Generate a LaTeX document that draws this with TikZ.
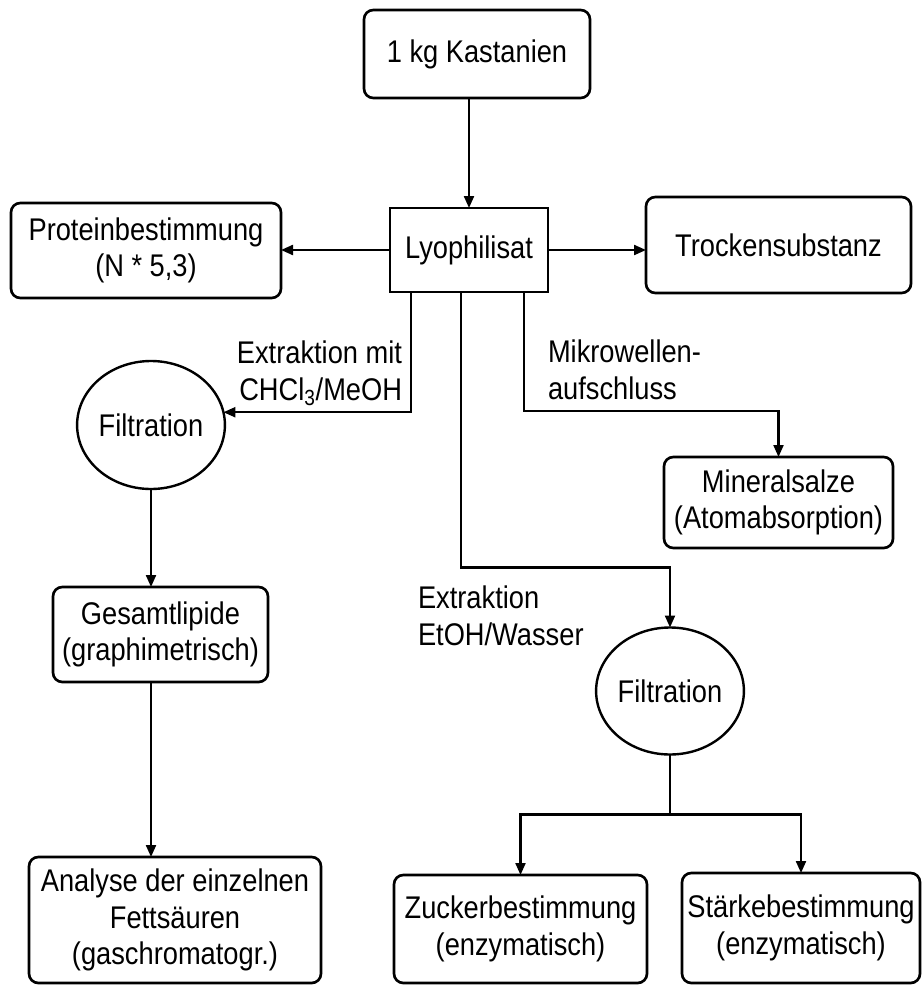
\documentclass[tikz,border=0pt]{standalone}
\usepackage{fontspec}
\setmainfont{Liberation Sans}[FakeStretch=0.87]
\usetikzlibrary{arrows.meta,calc,shapes.geometric}
\tikzset{
  rbox/.style={draw, line width=2pt, rounded corners=7pt, inner sep=0pt, outer sep=0pt, align=center},
  sbox/.style={draw, line width=2pt, inner sep=0pt, outer sep=0pt, align=center},
  circ/.style={draw, ellipse, line width=1.8pt, inner sep=0pt, outer sep=0pt, align=center},
  lbl/.style={inner sep=0pt, outer sep=0pt},
  arr/.style={line width=1.6pt, -{Triangle[length=9pt,width=7.5pt]}},
  ln/.style={line width=1.6pt}
}
\begin{document}
\begin{tikzpicture}[x=0.75pt,y=-0.75pt, every node/.style={font=\fontsize{23.5}{27.5}\selectfont}]
\useasboundingbox[fill=white] (0,0) rectangle (923,985);
\node[rbox, minimum width=169.5pt, minimum height=66pt] (kast) at (477,54) {1 kg Kastanien};
\node[sbox, minimum width=118.5pt, minimum height=63pt] (lyo) at (469,250) {Lyophilisat};
\node[rbox, minimum width=202.5pt, minimum height=71.25pt] (prot) at (146,250.5) {Proteinbestimmung\\(N * 5,3)};
\node[rbox, minimum width=198.75pt, minimum height=72pt] (trock) at (778.5,245) {\raisebox{-6pt}{Trockensubstanz}};
\node[circ, minimum width=102.75pt, minimum height=96pt] (fil1) at (151,425) {Filtration};
\node[rbox, minimum width=171.75pt, minimum height=68.25pt] (min) at (778.5,502.5) {Mineralsalze\\(Atomabsorption)};
\node[circ, minimum width=96.75pt, minimum height=95.25pt] (fil2) at (670,691) {Filtration};
\node[rbox, minimum width=161.25pt, minimum height=71.25pt] (ges) at (160.5,634.5) {Gesamtlipide\\(graphimetrisch)};
\node[rbox, minimum width=219pt, minimum height=94.5pt] (ana) at (175,920) {Analyse der einzelnen\\Fettsäuren\\(gaschromatogr.)};
\node[rbox, minimum width=189.75pt, minimum height=81pt] (zuc) at (520.5,929) {Zuckerbestimmung\\(enzymatisch)};
\node[rbox, minimum width=178.5pt, minimum height=82.5pt] (sta) at (801,928) {Stärkebestimmung\\(enzymatisch)};

\node[lbl, anchor=east, align=right] (ext1) at (402,373) {Extraktion mit\\CHCl\textsubscript{3}/MeOH};
\node[lbl, anchor=west, align=left] (mik) at (548,370) {Mikrowellen-\\aufschluss};
\node[lbl, anchor=west, align=left] (ext2) at (418,616) {Extraktion\\EtOH/Wasser};

\draw[arr] (kast.south -| lyo.north) -- (lyo.north);
\draw[arr] (lyo.west) -- (prot.east |- lyo.west);
\draw[arr] (lyo.east) -- (trock.west |- lyo.east);
\draw[arr] ($(lyo.south)+(-58,0)$) |- (fil1.10);
\draw[arr] ($(lyo.south)+(55,0)$) |- ($(min.north)+(0,-46)$) -- (min.north);
\draw[arr] ($(lyo.south)+(-8,0)$) |- ($(fil2.north)+(0,-60)$) -- (fil2.north);
\draw[arr] (fil1.south) -- (fil1.south |- ges.north);
\draw[arr] (fil1.south |- ges.south) -- (fil1.south |- ana.north);
\draw[ln] (fil2.south) -- ($(fil2.south)+(0,60)$) coordinate (br);
\draw[arr] (br) -| (zuc.north);
\draw[arr] (br) -| (sta.north);
\end{tikzpicture}
\end{document}
